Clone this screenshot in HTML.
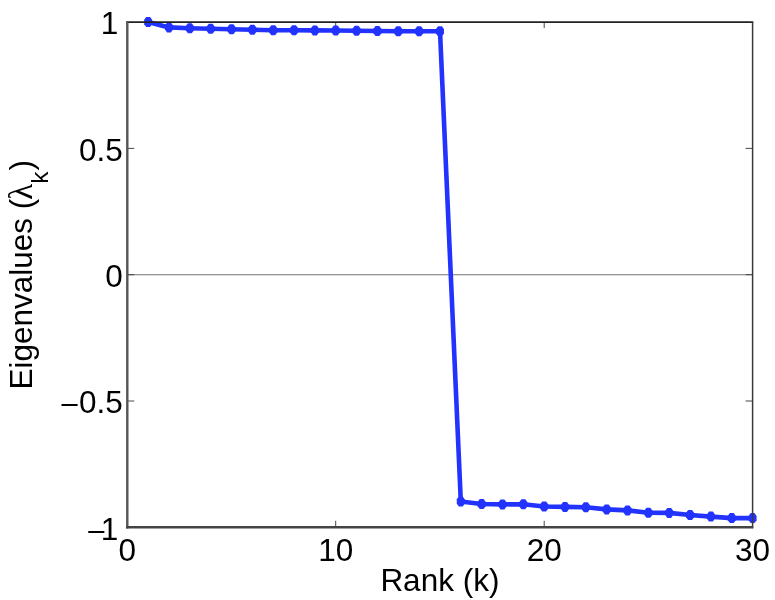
<!DOCTYPE html>
<html lang="en">
<head>
<meta charset="utf-8">
<title>Eigenvalues vs Rank</title>
<style>
html,body{margin:0;padding:0;background:#fff;}
body{width:775px;height:600px;overflow:hidden;}
svg{display:block;filter:blur(0.45px);}
text{font-family:"Liberation Sans",Arial,Helvetica,sans-serif;fill:#000;}
.tick{font-size:31.5px;}
.lab{font-size:31.5px;}
</style>
</head>
<body>
<svg width="775" height="600" viewBox="0 0 775 600">
<rect x="0" y="0" width="775" height="600" fill="#ffffff"/>
<!-- zero line -->
<line x1="127.3" y1="274.7" x2="752.6" y2="274.7" stroke="#747474" stroke-width="1.1"/>
<!-- ticks -->
<g stroke="#484848" stroke-width="1">
<line x1="335.7" y1="527.3" x2="335.7" y2="520.8"/>
<line x1="544.2" y1="527.3" x2="544.2" y2="520.8"/>
<line x1="335.7" y1="22.1" x2="335.7" y2="28.1"/>
<line x1="544.2" y1="22.1" x2="544.2" y2="28.1"/>
<line x1="127.3" y1="148.4" x2="134.3" y2="148.4"/>
<line x1="127.3" y1="274.7" x2="134.3" y2="274.7"/>
<line x1="127.3" y1="401.0" x2="134.3" y2="401.0"/>
<line x1="752.6" y1="148.4" x2="745.6" y2="148.4"/>
<line x1="752.6" y1="274.7" x2="745.6" y2="274.7"/>
<line x1="752.6" y1="401.0" x2="745.6" y2="401.0"/>
</g>
<!-- data -->
<polyline points="148.1,22.0 169.0,27.4 189.8,28.2 210.7,28.8 231.5,29.2 252.4,29.8 273.2,30.2 294.0,30.3 314.9,30.4 335.7,30.5 356.6,30.7 377.4,31.0 398.3,31.2 419.1,31.3 440.0,31.2 460.8,501.5 481.6,504.0 502.5,504.4 523.3,504.2 544.2,506.5 565.0,506.9 585.9,507.3 606.7,509.4 627.5,510.4 648.4,512.7 669.2,512.9 690.1,515.0 710.9,516.6 731.8,518.1 752.6,518.1" fill="none" stroke="#2233ff" stroke-width="4.6" stroke-linejoin="round" stroke-linecap="round"/>
<g fill="#2233ff">
<polygon points="150.04,17.00 152.14,19.80 152.14,24.20 150.04,27.00 146.24,27.00 144.14,24.20 144.14,19.80 146.24,17.00"/>
<polygon points="170.89,22.40 172.99,25.20 172.99,29.60 170.89,32.40 167.09,32.40 164.99,29.60 164.99,25.20 167.09,22.40"/>
<polygon points="191.73,23.20 193.83,26.00 193.83,30.40 191.73,33.20 187.93,33.20 185.83,30.40 185.83,26.00 187.93,23.20"/>
<polygon points="212.57,23.80 214.67,26.60 214.67,31.00 212.57,33.80 208.77,33.80 206.67,31.00 206.67,26.60 208.77,23.80"/>
<polygon points="233.42,24.20 235.52,27.00 235.52,31.40 233.42,34.20 229.62,34.20 227.52,31.40 227.52,27.00 229.62,24.20"/>
<polygon points="254.26,24.80 256.36,27.60 256.36,32.00 254.26,34.80 250.46,34.80 248.36,32.00 248.36,27.60 250.46,24.80"/>
<polygon points="275.10,25.20 277.20,28.00 277.20,32.40 275.10,35.20 271.30,35.20 269.20,32.40 269.20,28.00 271.30,25.20"/>
<polygon points="295.95,25.30 298.05,28.10 298.05,32.50 295.95,35.30 292.15,35.30 290.05,32.50 290.05,28.10 292.15,25.30"/>
<polygon points="316.79,25.40 318.89,28.20 318.89,32.60 316.79,35.40 312.99,35.40 310.89,32.60 310.89,28.20 312.99,25.40"/>
<polygon points="337.63,25.50 339.73,28.30 339.73,32.70 337.63,35.50 333.83,35.50 331.73,32.70 331.73,28.30 333.83,25.50"/>
<polygon points="358.48,25.70 360.58,28.50 360.58,32.90 358.48,35.70 354.68,35.70 352.58,32.90 352.58,28.50 354.68,25.70"/>
<polygon points="379.32,26.00 381.42,28.80 381.42,33.20 379.32,36.00 375.52,36.00 373.42,33.20 373.42,28.80 375.52,26.00"/>
<polygon points="400.16,26.20 402.26,29.00 402.26,33.40 400.16,36.20 396.36,36.20 394.26,33.40 394.26,29.00 396.36,26.20"/>
<polygon points="421.01,26.30 423.11,29.10 423.11,33.50 421.01,36.30 417.21,36.30 415.11,33.50 415.11,29.10 417.21,26.30"/>
<polygon points="441.85,26.20 443.95,29.00 443.95,33.40 441.85,36.20 438.05,36.20 435.95,33.40 435.95,29.00 438.05,26.20"/>
<polygon points="462.69,496.50 464.79,499.30 464.79,503.70 462.69,506.50 458.89,506.50 456.79,503.70 456.79,499.30 458.89,496.50"/>
<polygon points="483.54,499.00 485.64,501.80 485.64,506.20 483.54,509.00 479.74,509.00 477.64,506.20 477.64,501.80 479.74,499.00"/>
<polygon points="504.38,499.40 506.48,502.20 506.48,506.60 504.38,509.40 500.58,509.40 498.48,506.60 498.48,502.20 500.58,499.40"/>
<polygon points="525.22,499.20 527.32,502.00 527.32,506.40 525.22,509.20 521.42,509.20 519.32,506.40 519.32,502.00 521.42,499.20"/>
<polygon points="546.07,501.50 548.17,504.30 548.17,508.70 546.07,511.50 542.27,511.50 540.17,508.70 540.17,504.30 542.27,501.50"/>
<polygon points="566.91,501.90 569.01,504.70 569.01,509.10 566.91,511.90 563.11,511.90 561.01,509.10 561.01,504.70 563.11,501.90"/>
<polygon points="587.75,502.30 589.85,505.10 589.85,509.50 587.75,512.30 583.95,512.30 581.85,509.50 581.85,505.10 583.95,502.30"/>
<polygon points="608.60,504.40 610.70,507.20 610.70,511.60 608.60,514.40 604.80,514.40 602.70,511.60 602.70,507.20 604.80,504.40"/>
<polygon points="629.44,505.40 631.54,508.20 631.54,512.60 629.44,515.40 625.64,515.40 623.54,512.60 623.54,508.20 625.64,505.40"/>
<polygon points="650.28,507.70 652.38,510.50 652.38,514.90 650.28,517.70 646.48,517.70 644.38,514.90 644.38,510.50 646.48,507.70"/>
<polygon points="671.13,507.90 673.23,510.70 673.23,515.10 671.13,517.90 667.33,517.90 665.23,515.10 665.23,510.70 667.33,507.90"/>
<polygon points="691.97,510.00 694.07,512.80 694.07,517.20 691.97,520.00 688.17,520.00 686.07,517.20 686.07,512.80 688.17,510.00"/>
<polygon points="712.81,511.60 714.91,514.40 714.91,518.80 712.81,521.60 709.01,521.60 706.91,518.80 706.91,514.40 709.01,511.60"/>
<polygon points="733.66,513.10 735.76,515.90 735.76,520.30 733.66,523.10 729.86,523.10 727.76,520.30 727.76,515.90 729.86,513.10"/>
<polygon points="754.50,513.10 756.60,515.90 756.60,520.30 754.50,523.10 750.70,523.10 748.60,520.30 748.60,515.90 750.70,513.10"/>
</g>
<!-- axes box -->
<line x1="126.3" y1="22.1" x2="753.3000000000001" y2="22.1" stroke="#222" stroke-width="1.6"/>
<line x1="752.6" y1="22.1" x2="752.6" y2="528.3" stroke="#3a3a3a" stroke-width="1.5"/>
<line x1="127.3" y1="21.400000000000002" x2="127.3" y2="528.5" stroke="#555" stroke-width="2.4"/>
<line x1="126.1" y1="527.3" x2="753.3000000000001" y2="527.3" stroke="#444" stroke-width="2.4"/>
<!-- y tick labels -->
<g class="tick" text-anchor="end">
<text x="118.3" y="34.4">1</text>
<text x="122.8" y="160.7">0.5</text>
<text x="122.8" y="287.0">0</text>
<text x="122.8" y="413.3"><tspan font-size="29">–</tspan><tspan dx="1.3">0.5</tspan></text>
<text x="118.3" y="539.6"><tspan font-size="29">–</tspan><tspan dx="-3.5">1</tspan></text>
</g>
<!-- x tick labels -->
<g class="tick" text-anchor="middle">
<text x="127.3" y="561">0</text>
<text x="335.7" y="561">10</text>
<text x="544.2" y="561">20</text>
<text x="752.6" y="561">30</text>
</g>
<!-- axis labels -->
<text class="lab" text-anchor="middle" x="439.9" y="591">Rank (k)</text>
<text class="lab" text-anchor="middle" transform="translate(32,274.7) rotate(-90)">Eigenvalues (<tspan font-family="Liberation Serif, serif" font-size="33" dx="-1.2">λ</tspan><tspan font-size="24.5" dy="16">k</tspan><tspan dy="-16" dx="1.2">)</tspan></text>
</svg>
</body>
</html>
